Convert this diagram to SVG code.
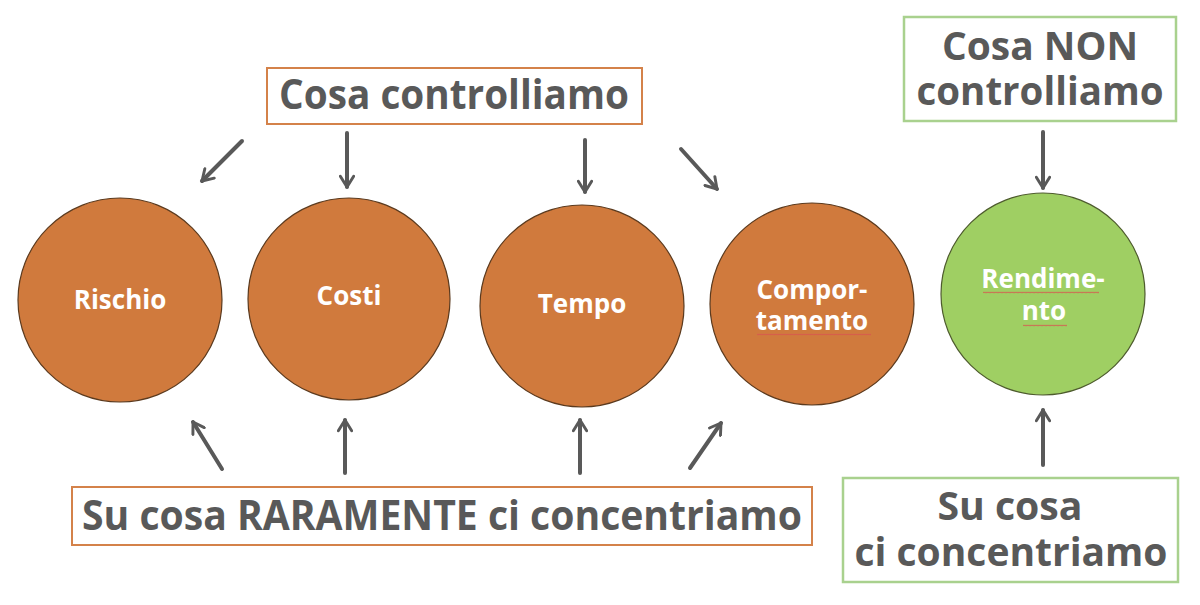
<svg xmlns="http://www.w3.org/2000/svg" width="1200" height="605" viewBox="0 0 1200 605">
<style>
.lbl{font-family:"Open Sans","Noto Sans","DejaVu Sans",sans-serif;font-weight:700;fill:#595959;text-anchor:middle}
.ctx{font-family:"Open Sans","Noto Sans","DejaVu Sans",sans-serif;font-weight:700;fill:#ffffff;text-anchor:middle;font-size:26px}
.obox{fill:#ffffff;stroke:#D4824A;stroke-width:2}
.gbox{fill:#ffffff;stroke:#A9D18E;stroke-width:2.5}
.oc{fill:#D07A3D;stroke:#5B3A1E;stroke-width:1.2}
.gc{fill:#9FCF63;stroke:#4E5B2E;stroke-width:1.2}
.arr{stroke:#595959;stroke-width:4;fill:none;stroke-linecap:round;marker-end:url(#ah)}
</style>
<defs>
<marker id="ah" viewBox="0 0 12 12" refX="10" refY="6" markerWidth="4" markerHeight="4" orient="auto" markerUnits="strokeWidth">
<polyline points="2,1 10,6 2,11" fill="none" stroke="#595959" stroke-width="2.2" stroke-linecap="round" stroke-linejoin="round"/>
</marker>
<pattern id="sq" x="0" y="0" width="4" height="3" patternUnits="userSpaceOnUse">
<path d="M0,2.2 L1,0.8 L2,2.2 L3,0.8 L4,2.2" fill="none" stroke="#D9534F" stroke-width="0.7"/>
</pattern>
</defs>
<rect width="1200" height="605" fill="#ffffff"/>

<g id="box-controlliamo">
<rect class="obox" x="267" y="68" width="375" height="56"/>
<text class="lbl" x="454" y="109" font-size="41" textLength="350" lengthAdjust="spacingAndGlyphs">Cosa controlliamo</text>
</g>
<g id="box-non-controlliamo">
<rect class="gbox" x="904" y="17" width="272" height="104"/>
<text class="lbl" x="1040" y="60" font-size="40" textLength="196" lengthAdjust="spacingAndGlyphs">Cosa NON</text>
<text class="lbl" x="1040" y="105" font-size="40" textLength="247" lengthAdjust="spacingAndGlyphs">controlliamo</text>
</g>
<g id="box-raramente">
<rect class="obox" x="72" y="487" width="740" height="58"/>
<text class="lbl" x="442" y="530" font-size="42" textLength="720" lengthAdjust="spacingAndGlyphs">Su cosa RARAMENTE ci concentriamo</text>
</g>
<g id="box-concentriamo">
<rect class="gbox" x="843" y="478" width="335" height="104"/>
<text class="lbl" x="1010" y="520" font-size="40" textLength="145" lengthAdjust="spacingAndGlyphs">Su cosa</text>
<text class="lbl" x="1011" y="566" font-size="40" textLength="313" lengthAdjust="spacingAndGlyphs">ci concentriamo</text>
</g>

<g id="node-rischio">
<ellipse class="oc" cx="120" cy="300" rx="102" ry="102"/>
<text class="ctx" x="120" y="309">Rischio</text>
</g>
<g id="node-costi">
<ellipse class="oc" cx="349" cy="299" rx="101" ry="101"/>
<text class="ctx" x="349" y="305">Costi</text>
</g>
<g id="node-tempo">
<ellipse class="oc" cx="582" cy="306" rx="102" ry="101"/>
<text class="ctx" x="582" y="313">Tempo</text>
</g>
<g id="node-comportamento">
<ellipse class="oc" cx="812" cy="304" rx="102" ry="101"/>
<text class="ctx" x="812" y="299">Compor-</text>
<text class="ctx" x="812" y="330">tamento</text>
<rect x="757" y="333" width="114" height="3" fill="url(#sq)"/>
</g>
<g id="node-rendimento">
<ellipse class="gc" cx="1043" cy="294" rx="102" ry="101"/>
<text class="ctx" x="1043" y="288">Rendime-</text>
<text class="ctx" x="1044" y="320">nto</text>
<rect x="983" y="291" width="116" height="3" fill="url(#sq)"/>
<rect x="1023" y="324" width="44" height="3" fill="url(#sq)"/>
</g>

<g id="connectors">
<line class="arr" x1="242" y1="141" x2="202" y2="181"/>
<line class="arr" x1="347" y1="133" x2="347" y2="187"/>
<line class="arr" x1="585" y1="140" x2="585" y2="192"/>
<line class="arr" x1="681" y1="149" x2="717" y2="189"/>
<line class="arr" x1="1043" y1="132" x2="1043" y2="188"/>
<line class="arr" x1="222" y1="469" x2="193" y2="422"/>
<line class="arr" x1="345" y1="473" x2="345" y2="420"/>
<line class="arr" x1="580" y1="473" x2="580" y2="420"/>
<line class="arr" x1="690" y1="468" x2="721" y2="423"/>
<line class="arr" x1="1043" y1="465" x2="1043" y2="410"/>
</g>
</svg>
